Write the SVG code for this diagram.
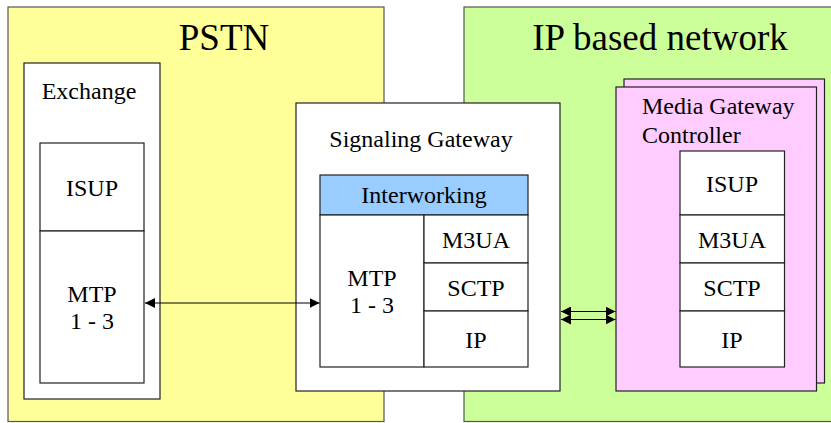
<svg xmlns="http://www.w3.org/2000/svg" width="831" height="423" viewBox="0 0 831 423">
<defs>
<style>
text{font-family:"Liberation Serif","Times New Roman",serif;fill:#000;font-size:24px;text-anchor:middle}
.title{font-size:37px}
.region{stroke:#555;stroke-width:1.2}
.box{fill:#fff;stroke:#222;stroke-width:1.2}
.mgc{fill:#FFCCFF;stroke:#222;stroke-width:1.2}
.conn{stroke:#000;stroke-width:1.2;fill:none}
.l{text-anchor:start}
</style>
<marker id="ah" viewBox="0 0 10 10" refX="10" refY="5" markerWidth="10" markerHeight="10" markerUnits="userSpaceOnUse" orient="auto-start-reverse">
<path d="M0,0 L10,5 L0,10 z" fill="#000"/>
</marker>
</defs>
<g id="pstn">
<rect class="region" x="8" y="7" width="376" height="414.5" fill="#FFFF99"/>
<text class="title" x="224" y="50">PSTN</text>
</g>
<g id="ipnet">
<rect class="region" x="464" y="7" width="370" height="414.5" fill="#CCFF99"/>
<text class="title" x="660" y="50">IP based network</text>
</g>
<g id="exchange">
<rect class="box" x="24" y="63" width="136" height="336"/>
<text x="89" y="99">Exchange</text>
<rect class="box" x="40" y="143" width="104" height="88"/>
<text x="92" y="196">ISUP</text>
<rect class="box" x="40" y="231" width="104" height="152"/>
<text x="92" y="302">MTP</text>
<text x="92" y="329">1 - 3</text>
</g>
<g id="sg">
<rect class="box" x="296" y="103" width="264" height="288"/>
<text x="421" y="147">Signaling Gateway</text>
<rect x="320" y="175" width="208" height="40" fill="#99CCFF" stroke="#222" stroke-width="1.2"/>
<text x="424" y="203">Interworking</text>
<rect class="box" x="320" y="215" width="104" height="152"/>
<text x="372" y="286">MTP</text>
<text x="372" y="313">1 - 3</text>
<rect class="box" x="424" y="215" width="104" height="48"/>
<text x="476" y="248">M3UA</text>
<rect class="box" x="424" y="263" width="104" height="48"/>
<text x="476" y="296">SCTP</text>
<rect class="box" x="424" y="311" width="104" height="56"/>
<text x="476" y="348">IP</text>
</g>
<g id="mgc">
<rect class="mgc" x="624" y="79" width="200.5" height="304"/>
<rect class="mgc" x="616" y="87" width="200.5" height="304"/>
<text class="l" x="642" y="114">Media Gateway</text>
<text class="l" x="642" y="143">Controller</text>
<rect class="box" x="680" y="151" width="104.5" height="64"/>
<text x="732" y="192">ISUP</text>
<rect class="box" x="680" y="215" width="104.5" height="48"/>
<text x="732" y="248">M3UA</text>
<rect class="box" x="680" y="263" width="104.5" height="48"/>
<text x="732" y="296">SCTP</text>
<rect class="box" x="680" y="311" width="104.5" height="56"/>
<text x="732" y="348">IP</text>
</g>
<g id="connectors">
<line class="conn" x1="145" y1="303" x2="319.5" y2="303" marker-start="url(#ah)" marker-end="url(#ah)"/>
<line class="conn" x1="561" y1="311.5" x2="615.5" y2="311.5" marker-start="url(#ah)" marker-end="url(#ah)"/>
<line class="conn" x1="561" y1="319.5" x2="615.5" y2="319.5" marker-start="url(#ah)" marker-end="url(#ah)"/>
</g>
</svg>
